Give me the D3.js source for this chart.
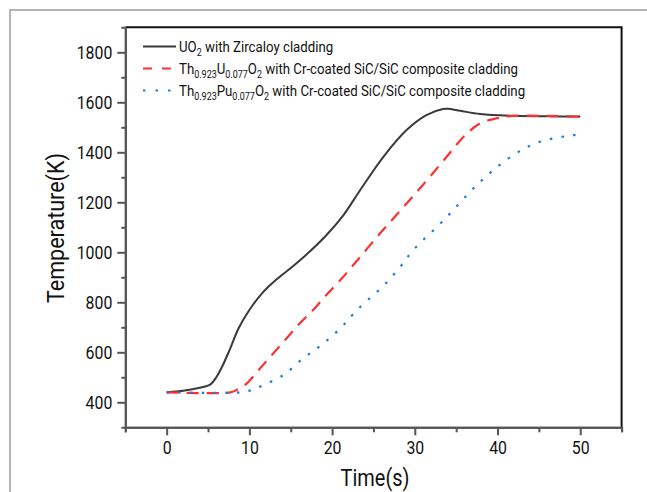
<!DOCTYPE html>
<html>
<head>
<meta charset="utf-8">
<script src="https://cdn.jsdelivr.net/npm/d3@7"></script>
<style>
  body { margin: 0; background: #fff; }
  svg { display: block; }
  text { font-family: Roboto, "Noto Sans", sans-serif; fill: #111; }
</style>
</head>
<body>
<div id="chart"></div>
<script>
var W = 647, H = 492;

// time (s) and temperature (K)
var uo2Time = [0, 2, 4, 5.3, 6, 6.7, 7.6, 8.7, 10, 11.5, 13.3, 15.3, 17.3, 19.3, 21.4, 23.4, 26.2, 29, 31.4, 33.4, 34, 35.5, 37.9, 41.9, 46, 50];
var uo2Temp = [440, 446, 458, 472, 500, 542, 609, 696, 769, 835, 892, 945, 1003, 1068, 1150, 1249, 1382, 1489, 1549, 1573, 1574, 1566, 1553, 1546, 1544, 1543];

var thuTime = [0, 7.7, 8.5, 9.7, 11.3, 12.9, 14.5, 16.1, 17.7, 19.3, 21, 23, 25.8, 27.8, 29.8, 31.9, 33.9, 35.9, 37.9, 39.9, 41.9, 45, 50];
var thuTemp = [440, 440, 450, 476, 536, 596, 656, 716, 769, 829, 889, 966, 1076, 1150, 1225, 1305, 1384, 1462, 1516, 1536, 1546, 1546, 1542];

var thpuTime = [0, 8.9, 10.3, 11.7, 14.1, 16.5, 18.7, 21, 23, 26.2, 28.2, 29.8, 33.4, 37.9, 41.9, 45.1, 49.2, 50];
var thpuTemp = [440, 440, 449, 469, 509, 576, 629, 696, 769, 866, 940, 1009, 1125, 1282, 1389, 1442, 1469, 1472];

var xMajor = [0, 10, 20, 30, 40, 50];
var xMinor = [-5, 5, 15, 25, 35, 45, 55];
var yMajor = [400, 600, 800, 1000, 1200, 1400, 1600, 1800];
var yMinor = [500, 700, 900, 1100, 1300, 1500, 1700];

var series = [
  {time: uo2Time, temp: uo2Temp, color: "#3a3a3a", dash: null, legendDash: null},
  {time: thuTime, temp: thuTemp, color: "#ff3030", dash: "12,8", legendDash: "9,10"},
  {time: thpuTime, temp: thpuTemp, color: "#1f7be0", dash: "2.5,9.2", legendDash: "2.5,10"}
];

var svg = d3.select("#chart").append("svg")
  .attr("width", W)
  .attr("height", H);

// light frame round the figure
svg.append("path")
  .attr("d", "M10,492 V10 H647")
  .attr("fill", "none")
  .attr("stroke", "#b4b4b4")
  .attr("stroke-width", 2);

var x = d3.scaleLinear().domain([-5, 55]).range([125.3, 621.6]);
var y = d3.scaleLinear().domain([300, 1900]).range([427.3, 27.3]);

// box top + right
svg.append("path")
  .attr("d", "M" + x(-5) + "," + y(1900) + " H" + x(55) + " V" + y(300))
  .attr("fill", "none")
  .attr("stroke", "#111")
  .attr("stroke-width", 2);

// narrow-ish digits, the original font is a condensed one
function styleAxis(g) {
  g.selectAll("path, line").attr("stroke", "#555").attr("stroke-width", 2);
  g.selectAll("text").attr("fill", "#111").style("font-size", "18.5px")
    .attr("textLength", function() { return this.textContent.length * 8.9; })
    .attr("lengthAdjust", "spacingAndGlyphs");
}

svg.append("g")
  .attr("transform", "translate(0," + y(300) + ")")
  .call(d3.axisBottom(x).tickValues(xMinor).tickSize(5).tickFormat(""))
  .call(styleAxis);

svg.append("g")
  .attr("transform", "translate(0," + y(300) + ")")
  .call(d3.axisBottom(x).tickValues(xMajor).tickSize(8).tickSizeOuter(0).tickPadding(6).tickFormat(d3.format("d")))
  .call(styleAxis);

svg.append("g")
  .attr("transform", "translate(" + x(-5) + ",0)")
  .call(d3.axisLeft(y).tickValues(yMinor).tickSize(4).tickFormat(""))
  .call(styleAxis);

svg.append("g")
  .attr("transform", "translate(" + x(-5) + ",0)")
  .call(d3.axisLeft(y).tickValues(yMajor).tickSize(8).tickSizeOuter(0).tickPadding(5).tickFormat(d3.format("d")))
  .call(styleAxis);

// axis titles
svg.append("text")
  .attr("transform", "translate(64,228) rotate(-90)")
  .attr("text-anchor", "middle")
  .attr("textLength", 150)
  .attr("lengthAdjust", "spacingAndGlyphs")
  .style("font-size", "23px")
  .text("Temperature(K)");

svg.append("text")
  .attr("x", 375)
  .attr("y", 486)
  .attr("text-anchor", "middle")
  .attr("textLength", 69)
  .attr("lengthAdjust", "spacingAndGlyphs")
  .style("font-size", "23px")
  .text("Time(s)");

// curves
var line = d3.line()
  .x(function(d) { return x(d[0]); })
  .y(function(d) { return y(d[1]); })
  .curve(d3.curveCatmullRom.alpha(0.5));

series.forEach(function(s) {
  var pts = d3.zip(s.time, s.temp);
  svg.append("path")
    .datum(pts)
    .attr("d", line)
    .attr("fill", "none")
    .attr("stroke", s.color)
    .attr("stroke-width", s.dash ? 2.2 : 2)
    .attr("stroke-dasharray", s.dash);
});

// legend
var legendRows = [
  [["UO", 0], ["2", 1], [" with Zircaloy cladding", 0]],
  [["Th", 0], ["0.923", 1], ["U", 0], ["0.077", 1], ["O", 0], ["2", 1], [" with Cr-coated SiC/SiC composite cladding", 0]],
  [["Th", 0], ["0.923", 1], ["Pu", 0], ["0.077", 1], ["O", 0], ["2", 1], [" with Cr-coated SiC/SiC composite cladding", 0]]
];

var legend = svg.append("g");
legendRows.forEach(function(parts, i) {
  var ly = 46.5 + i * 22;
  legend.append("line")
    .attr("x1", 143).attr("x2", 176)
    .attr("y1", ly).attr("y2", ly)
    .attr("stroke", series[i].color)
    .attr("stroke-width", 2)
    .attr("stroke-dasharray", series[i].legendDash);
  var t = legend.append("text")
    .attr("transform", "translate(179," + (ly + 5.5) + ") scale(0.855,1)")
    .style("font-size", "15.5px");
  var sub = false;
  parts.forEach(function(p) {
    var ts = t.append("tspan").text(p[0]);
    if (p[1] && !sub) { ts.attr("dy", 4).style("font-size", "10.5px"); sub = true; }
    else if (p[1]) { ts.style("font-size", "10.5px"); }
    else if (sub) { ts.attr("dy", -4); sub = false; }
  });
});
</script>
</body>
</html>
